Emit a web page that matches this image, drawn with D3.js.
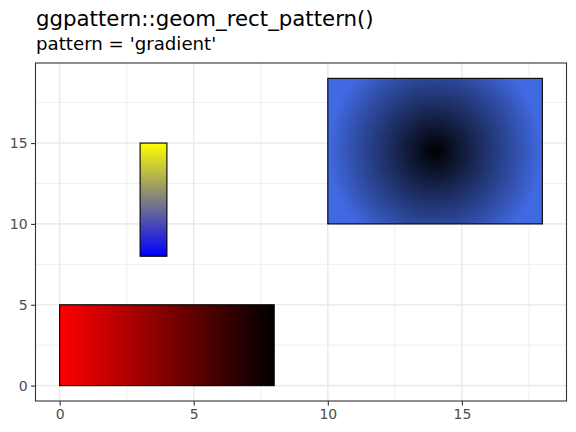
<!DOCTYPE html>
<html>
<head>
<meta charset="utf-8">
<script src="https://cdn.jsdelivr.net/npm/d3@7.9.0/dist/d3.min.js"></script>
<style>
  html, body { margin: 0; padding: 0; background: #fff; }
  text { font-family: "DejaVu Sans", sans-serif; }
</style>
</head>
<body>
<div id="chart"></div>
<script>
// rectangles
const xmin = [0, 3, 10];
const xmax = [8, 4, 18];
const ymin = [0, 8, 10];
const ymax = [5, 15, 19];
const gradStart = ['red', 'yellow', 'black'];   // left / top / centre
const gradEnd = ['black', 'blue', 'royalblue'];   // right / bottom / edge
const gradKind = ['horizontal', 'vertical', 'radial'];

const xTicks = [0, 5, 10, 15];
const yTicks = [0, 5, 10, 15];
const xMinor = [2.5, 7.5, 12.5, 17.5];
const yMinor = [2.5, 7.5, 12.5, 17.5];

const titleText = 'ggpattern::geom_rect_pattern()';
const subtitleText = "pattern = 'gradient'";

const width = 576;
const height = 432;
const panel = { left: 35.5, right: 566.5, top: 63, bottom: 401 };

const rects = xmin.map((d, i) => ({
  xmin: d, xmax: xmax[i], ymin: ymin[i], ymax: ymax[i],
  c1: gradStart[i], c2: gradEnd[i], kind: gradKind[i], id: 'g' + i,
}));

const svg = d3.select('#chart').append('svg')
  .attr('width', width)
  .attr('height', height);

const xScale = d3.scaleLinear()
  .domain([-0.9, 18.9])
  .range([panel.left, panel.right]);

const yScale = d3.scaleLinear()
  .domain([-0.95, 19.95])
  .range([panel.bottom, panel.top]);

// gridlines
const grid = svg.append('g').attr('class', 'grid');
grid.selectAll('line.xminor').data(xMinor).join('line')
  .attr('x1', d => xScale(d)).attr('x2', d => xScale(d))
  .attr('y1', panel.top).attr('y2', panel.bottom)
  .attr('stroke', '#ebebeb').attr('stroke-width', 0.8);
grid.selectAll('line.yminor').data(yMinor).join('line')
  .attr('y1', d => yScale(d)).attr('y2', d => yScale(d))
  .attr('x1', panel.left).attr('x2', panel.right)
  .attr('stroke', '#ebebeb').attr('stroke-width', 0.8);
grid.selectAll('line.xmajor').data(xTicks).join('line')
  .attr('x1', d => xScale(d)).attr('x2', d => xScale(d))
  .attr('y1', panel.top).attr('y2', panel.bottom)
  .attr('stroke', '#ebebeb').attr('stroke-width', 1.6);
grid.selectAll('line.ymajor').data(yTicks).join('line')
  .attr('y1', d => yScale(d)).attr('y2', d => yScale(d))
  .attr('x1', panel.left).attr('x2', panel.right)
  .attr('stroke', '#ebebeb').attr('stroke-width', 1.6);

// gradients
const defs = svg.append('defs');
rects.forEach(r => {
  let g;
  if (r.kind === 'radial') {
    const cx = (xScale(r.xmin) + xScale(r.xmax)) / 2;
    const cy = (yScale(r.ymin) + yScale(r.ymax)) / 2;
    g = defs.append('radialGradient').attr('id', r.id)
      .attr('gradientUnits', 'userSpaceOnUse')
      .attr('cx', cx).attr('cy', cy).attr('fx', cx).attr('fy', cy)
      .attr('r', (xScale(r.xmax) - xScale(r.xmin)) / 2);
  } else if (r.kind === 'horizontal') {
    g = defs.append('linearGradient').attr('id', r.id)
      .attr('x1', 0).attr('y1', 0).attr('x2', 1).attr('y2', 0);
  } else {
    g = defs.append('linearGradient').attr('id', r.id)
      .attr('x1', 0).attr('y1', 0).attr('x2', 0).attr('y2', 1);
  }
  g.append('stop').attr('offset', 0).attr('stop-color', r.c1);
  g.append('stop').attr('offset', 1).attr('stop-color', r.c2);
});

svg.append('g').attr('class', 'rects')
  .selectAll('rect').data(rects).join('rect')
  .attr('x', d => xScale(d.xmin))
  .attr('y', d => yScale(d.ymax))
  .attr('width', d => xScale(d.xmax) - xScale(d.xmin))
  .attr('height', d => yScale(d.ymin) - yScale(d.ymax))
  .attr('fill', d => `url(#${d.id})`)
  .attr('stroke', 'black')
  .attr('stroke-width', 1.1);

// panel border
svg.append('rect')
  .attr('x', panel.left).attr('y', panel.top)
  .attr('width', panel.right - panel.left)
  .attr('height', panel.bottom - panel.top)
  .attr('fill', 'none')
  .attr('stroke', '#333333')
  .attr('stroke-width', 1.1);

// axes
const xAxis = svg.append('g')
  .attr('transform', `translate(0, ${panel.bottom})`)
  .call(d3.axisBottom(xScale).tickValues(xTicks).tickSize(4.4).tickPadding(3.5));
const yAxis = svg.append('g')
  .attr('transform', `translate(${panel.left}, 0)`)
  .call(d3.axisLeft(yScale).tickValues(yTicks).tickSize(4.4).tickPadding(3.5));

[xAxis, yAxis].forEach(a => {
  a.select('.domain').remove();
  a.selectAll('.tick line').attr('stroke', '#333333').attr('stroke-width', 1.1);
  a.selectAll('.tick text')
    .attr('fill', '#4d4d4d')
    .style('font-family', '"DejaVu Sans", sans-serif')
    .style('font-size', '14px');
});

// titles
svg.append('text')
  .attr('x', 36).attr('y', 26)
  .attr('fill', 'black')
  .style('font-size', '21.3px')
  .text(titleText);

svg.append('text')
  .attr('x', 36).attr('y', 50)
  .attr('fill', 'black')
  .style('font-size', '18.2px')
  .text(subtitleText);
</script>
</body>
</html>
